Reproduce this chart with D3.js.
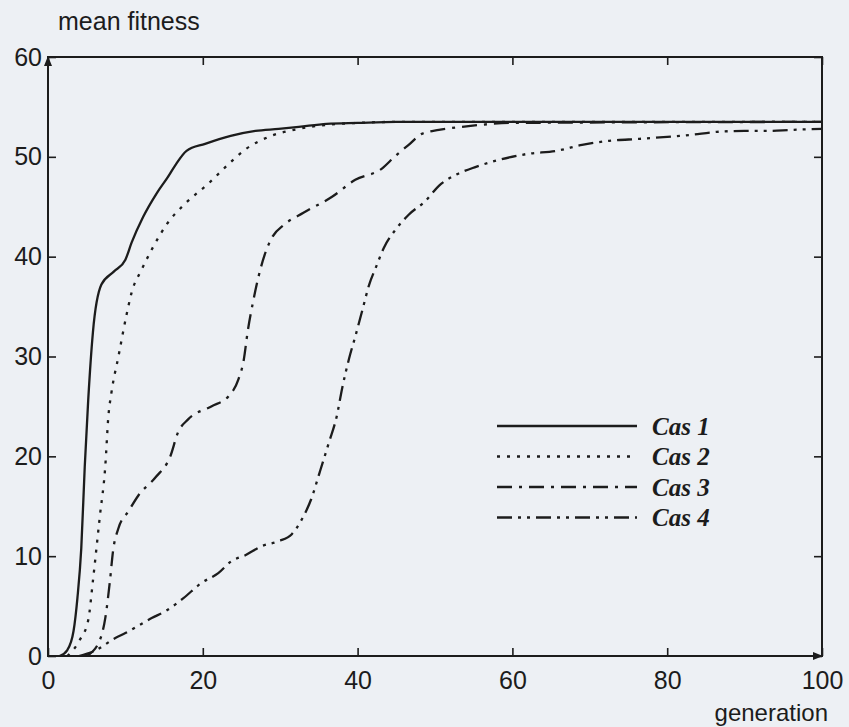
<!DOCTYPE html>
<html>
  <head>
    <meta charset="utf-8" />
    <style>
      body { margin: 0; background: #edf0f4; }
      svg { display: block; }
    </style>
  </head>
  <body>
    <svg id="chart"></svg>

    <!-- Load d3.js -->
    <script src="https://d3js.org/d3.v7.min.js"></script>

    <script>
      // data
      const cas1Gen = [1.5, 2.5, 3.3, 3.8, 4.3, 4.75, 5.2, 5.8, 6.9, 8.5, 10, 10.8, 12.3, 14, 15.5, 16.4, 17.9, 20.3, 23.6, 26.8, 29.8, 32.4, 36, 40, 45, 100];
      const cas1Val = [0, 0.6, 2.5, 5.8, 10.8, 19, 25.7, 32.4, 37.2, 38.5, 39.7, 41.4, 44, 46.3, 48, 49.1, 50.6, 51.3, 52.1, 52.6, 52.8, 53.0, 53.3, 53.4, 53.5, 53.5];

      const cas2Gen = [2.5, 4.1, 5.2, 5.8, 6.7, 7.4, 7.8, 8.2, 9.1, 10.1, 10.8, 12.1, 13.6, 15.3, 17.7, 20.7, 23.1, 25.6, 28.5, 32.4, 36, 40, 45, 100];
      const cas2Val = [0, 1.6, 3.6, 7.5, 14, 19, 24, 26.4, 30, 34, 36.4, 38.7, 41, 43.2, 45.3, 47.3, 49.1, 50.8, 52, 52.8, 53.2, 53.4, 53.5, 53.5];

      const cas3Gen = [5, 6.7, 7.4, 8, 8.4, 9.1, 10.4, 11.7, 13.9, 15.8, 16.8, 18.1, 21.1, 23.3, 24.6, 25.3, 25.8, 26.5, 27.2, 28, 29, 30.5, 33, 36.7, 39.7, 43.1, 44.9, 46.6, 48.3, 50.5, 53.5, 60, 100];
      const cas3Val = [0, 1.6, 3.8, 7.5, 10.5, 12.8, 14.5, 16.1, 17.9, 20, 22.4, 23.7, 25, 26, 27.7, 29.7, 32.5, 35.5, 38, 40.2, 42, 43.2, 44.4, 46, 47.7, 48.8, 50.1, 51.2, 52.3, 52.7, 53, 53.4, 53.5];

      const cas4Gen = [4, 6, 8.7, 10, 13.4, 15.2, 17.5, 19.8, 22, 23.7, 25.5, 27.6, 29.8, 31.5, 32.8, 34, 35.1, 36.3, 37.3, 38, 38.9, 39.7, 40.6, 41.5, 42.4, 43.4, 44.9, 46.6, 48.8, 50.5, 52.7, 55.3, 58.3, 62, 65.7, 69, 72.5, 76.4, 80, 83, 86.4, 90, 93, 96, 100];
      const cas4Val = [0, 0.5, 1.8, 2.3, 3.8, 4.5, 5.8, 7.3, 8.3, 9.5, 10.1, 11, 11.5, 12.2, 13.7, 15.7, 18.4, 21.4, 24, 26.8, 29.8, 32, 34.6, 37.2, 39, 40.9, 42.7, 44.2, 45.6, 47.1, 48.2, 49, 49.7, 50.3, 50.6, 51.2, 51.6, 51.8, 52, 52.2, 52.5, 52.6, 52.6, 52.7, 52.8];

      const seriesNames = ["Cas 1", "Cas 2", "Cas 3", "Cas 4"];
      const xTicks = [0, 20, 40, 60, 80, 100];
      const yTicks = [0, 10, 20, 30, 40, 50, 60];

      const width = 849;
      const height = 727;
      const ink = "#1c1c1c";
      const dashes = ["none", "3,7", "15,7,3,7", "15,6,3,6,3,6"];

      const series = [
        [cas1Gen, cas1Val],
        [cas2Gen, cas2Val],
        [cas3Gen, cas3Val],
        [cas4Gen, cas4Val],
      ].map(([g, v], i) => ({
        name: seriesNames[i],
        dash: dashes[i],
        points: g.map((d, j) => ({ g: d, v: v[j] })),
      }));

      const svg = d3
        .select("#chart")
        .attr("width", width)
        .attr("height", height)
        .style("background", "#edf0f4");

      const x = d3.scaleLinear().domain([0, 100]).range([48, 822]);
      const y = d3.scaleLinear().domain([0, 60]).range([656, 57]);

      const axisFont = "'Liberation Sans', Arial, sans-serif";

      // inward ticks on all four sides (matlab-like box)
      function styleAxis(g) {
        g.select(".domain").remove();
        g.selectAll(".tick line").attr("stroke", ink).attr("stroke-width", 1.6);
        g.selectAll("text")
          .attr("fill", ink)
          .style("font-family", axisFont)
          .style("font-size", "25px");
      }

      svg
        .append("g")
        .attr("transform", `translate(0,${y(0)})`)
        .call(d3.axisBottom(x).tickValues(xTicks).tickSize(-8).tickPadding(15))
        .call(styleAxis);

      svg
        .append("g")
        .attr("transform", `translate(0,${y(60)})`)
        .call(d3.axisTop(x).tickValues(xTicks).tickSize(-8).tickFormat(""))
        .call(styleAxis);

      svg
        .append("g")
        .attr("transform", `translate(${x(0)},0)`)
        .call(d3.axisLeft(y).tickValues(yTicks).tickSize(-8).tickPadding(6))
        .call(styleAxis);

      svg
        .append("g")
        .attr("transform", `translate(${x(100)},0)`)
        .call(d3.axisRight(y).tickValues(yTicks).tickSize(-8).tickFormat(""))
        .call(styleAxis);

      // frame
      svg
        .append("rect")
        .attr("x", x(0))
        .attr("y", y(60))
        .attr("width", x(100) - x(0))
        .attr("height", y(0) - y(60))
        .attr("fill", "none")
        .attr("stroke", ink)
        .attr("stroke-width", 2);

      // arrow heads
      svg
        .append("path")
        .attr("d", `M${x(0) - 4},${y(60) + 9}L${x(0)},${y(60) - 1}L${x(0) + 4},${y(60) + 9}Z`)
        .attr("fill", ink);
      svg
        .append("path")
        .attr("d", `M${x(100) - 9},${y(0) - 4}L${x(100) + 1},${y(0)}L${x(100) - 9},${y(0) + 4}Z`)
        .attr("fill", ink);

      const line = d3
        .line()
        .curve(d3.curveMonotoneX)
        .x((d) => x(d.g))
        .y((d) => y(d.v));

      svg
        .append("g")
        .attr("fill", "none")
        .attr("stroke", ink)
        .attr("stroke-width", 2.3)
        .selectAll("path")
        .data(series)
        .join("path")
        .attr("stroke-dasharray", (d) => d.dash)
        .attr("d", (d) => line(d.points));

      // axis titles
      svg
        .append("text")
        .attr("x", 58)
        .attr("y", 30)
        .attr("fill", ink)
        .style("font-family", axisFont)
        .style("font-size", "25px")
        .text("mean fitness");

      svg
        .append("text")
        .attr("x", 828)
        .attr("y", 721)
        .attr("text-anchor", "end")
        .attr("fill", ink)
        .style("font-family", axisFont)
        .style("font-size", "24px")
        .text("generation");

      // legend
      const legend = svg
        .append("g")
        .selectAll("g")
        .data(series)
        .join("g")
        .attr("transform", (d, i) => `translate(497,${426 + i * 30.5})`);

      legend
        .append("line")
        .attr("x1", 0)
        .attr("x2", 140)
        .attr("stroke", ink)
        .attr("stroke-width", 2.3)
        .attr("stroke-dasharray", (d) => d.dash);

      legend
        .append("text")
        .attr("x", 155)
        .attr("dy", "0.35em")
        .attr("fill", ink)
        .style("font-family", "'Liberation Serif', 'Times New Roman', serif")
        .style("font-style", "italic")
        .style("font-weight", "bold")
        .style("font-size", "25px")
        .text((d) => d.name);
    </script>
  </body>
</html>
